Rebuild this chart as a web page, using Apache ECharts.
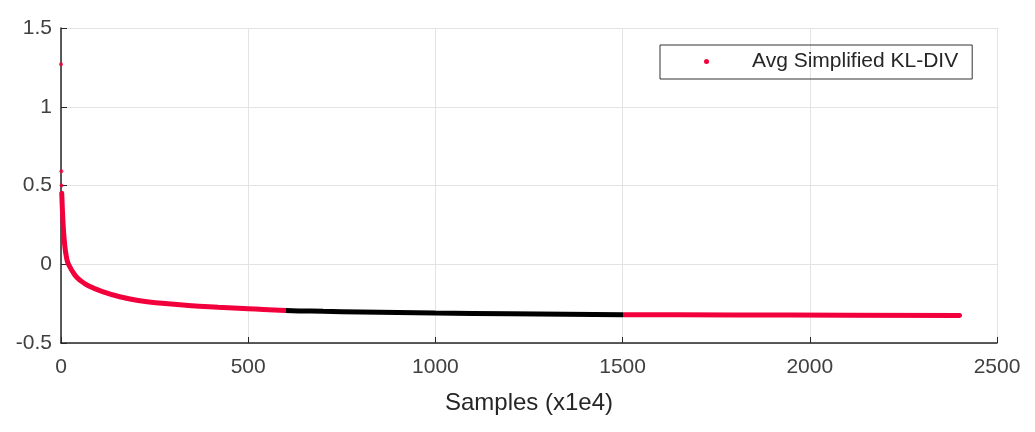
<!DOCTYPE html>
<html>
<head>
<meta charset="utf-8">
<script src="https://cdn.jsdelivr.net/npm/echarts@6/dist/echarts.min.js"></script>
<style>
  html, body { margin: 0; padding: 0; background: #fff; }
  #chart { width: 1035px; height: 432px; }
</style>
</head>
<body>
<div id="chart"></div>
<script>
// averaged simplified KL divergence vs samples (x1e4)
const samples = [2, 3.5, 6, 10, 15, 20, 37, 50, 73, 117, 160, 206, 270, 340, 420, 500, 600, 700, 800, 1000, 1200, 1500, 1800, 2100, 2400]
const klDiv = [0.45, 0.36, 0.24, 0.12, 0.04, 0.0, -0.068, -0.1, -0.136, -0.178, -0.208, -0.23, -0.248, -0.262, -0.273, -0.282, -0.293, -0.299, -0.303, -0.31, -0.315, -0.32, -0.322, -0.324, -0.326]
// first few averages, drawn as lone dots
const earlySamples = [0, 1, 1.5]
const earlyKlDiv = [1.27, 0.59, 0.5]
const xTicks = [0, 2500, 500]
const yTicks = [-0.5, 1.5, 0.5]
// stretch drawn in black
const blackFrom = 600
const blackTo = 1500

const seriesName = 'Avg Simplified KL-DIV'
const red = '#f2003c'
const font = 'Liberation Sans, Arial, sans-serif'

const dom = echarts.init(document.getElementById('chart'))
const option = {
  animation: false,
  grid: { left: 61, top: 28, width: 936, height: 315, containLabel: false },
  legend: {
    left: 660,
    top: 45,
    data: [{ name: seriesName, icon: 'circle' }],
    itemWidth: 5,
    itemHeight: 5,
    padding: [6, 14, 7, 44],
    borderColor: '#333',
    borderWidth: 1,
    borderRadius: 0,
    textStyle: { fontFamily: font, fontSize: 21, color: '#262626', padding: [0, 0, 0, 38] }
  },
  visualMap: {
    show: false,
    type: 'piecewise',
    dimension: 0,
    seriesIndex: 0,
    pieces: [
      { lt: blackFrom, color: red },
      { gte: blackFrom, lt: blackTo, color: '#000' },
      { gte: blackTo, color: red }
    ]
  },
  xAxis: {
    type: 'value',
    min: xTicks[0],
    max: xTicks[1],
    interval: xTicks[2],
    name: 'Samples (x1e4)',
    nameLocation: 'middle',
    nameGap: 48,
    nameTextStyle: { fontFamily: font, fontSize: 24, color: '#262626' },
    axisLine: { onZero: false, lineStyle: { color: '#262626', width: 1.5 } },
    axisTick: { inside: true, length: 6, lineStyle: { color: '#262626' } },
    axisLabel: { fontFamily: font, fontSize: 21, color: '#404040', margin: 14, formatter: v => String(v) },
    splitLine: { show: true, lineStyle: { color: '#e3e3e3' } }
  },
  yAxis: {
    type: 'value',
    min: yTicks[0],
    max: yTicks[1],
    interval: yTicks[2],
    axisLine: { show: true, onZero: false, lineStyle: { color: '#262626', width: 1.5 } },
    axisTick: { show: true, inside: true, length: 6, lineStyle: { color: '#262626' } },
    axisLabel: { fontFamily: font, fontSize: 21, color: '#404040', margin: 9 },
    splitLine: { show: true, lineStyle: { color: '#e3e3e3' } }
  },
  series: [
    {
      name: seriesName,
      type: 'line',
      showSymbol: false,
      smooth: true,
      lineStyle: { width: 5, cap: 'round' },
      itemStyle: { color: red },
      data: samples.map((x, i) => [x, klDiv[i]])
    },
    {
      name: seriesName,
      type: 'scatter',
      symbolSize: 4,
      itemStyle: { color: red },
      data: earlySamples.map((x, i) => [x, earlyKlDiv[i]])
    }
  ]
}
dom.setOption(option)
</script>
</body>
</html>
